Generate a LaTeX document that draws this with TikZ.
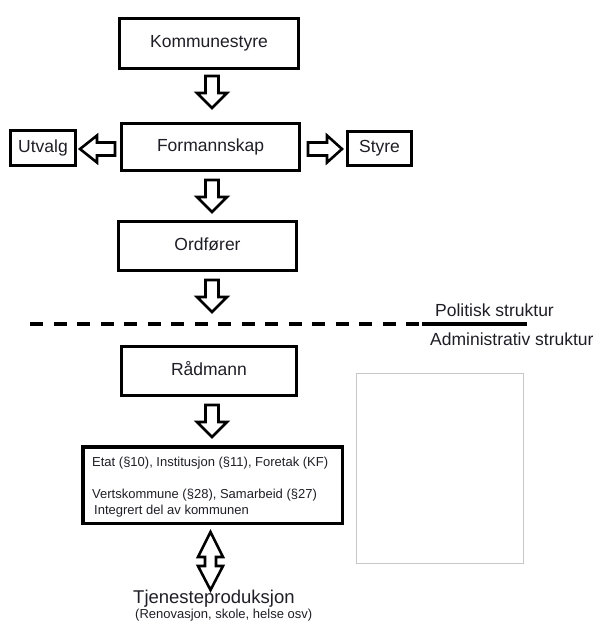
\documentclass[tikz,border=0pt]{standalone}
\usepackage{fontspec}
\setmainfont{Liberation Sans}
\definecolor{txt}{RGB}{30,30,38}
\definecolor{frame}{RGB}{200,200,200}
\begin{document}
\begin{tikzpicture}[x=1pt,y=-1pt,
  box/.style={draw=black, line width=3pt, inner sep=0pt, text=txt,
    font=\fontsize{17.5}{20}\selectfont, text height=13pt, text depth=5pt},
  small/.style={inner sep=0pt, text=txt, font=\fontsize{13}{14}\selectfont, anchor=base west},
  big/.style={inner sep=0pt, text=txt, font=\fontsize{17.5}{20}\selectfont, anchor=base west},
  blockarrow/.style={draw=black, fill=white, line width=2.6pt, line join=miter},
  pics/downarr/.style={code={
    \draw[blockarrow] (-6.5,0) -- (6.5,0) -- (6.5,17) -- (15,17) -- (0,32)
      -- (-15,17) -- (-6.5,17) -- cycle;}},
  pics/leftarr/.style={code={
    \draw[blockarrow] (0,-6.5) -- (0,6.5) -- (-18,6.5) -- (-18,13.5) -- (-35,0)
      -- (-18,-13.5) -- (-18,-6.5) -- cycle;}},
  pics/rightarr/.style={code={
    \draw[blockarrow] (0,-6.5) -- (0,6.5) -- (19,6.5) -- (19,13.5) -- (34,0)
      -- (19,-13.5) -- (19,-6.5) -- cycle;}}
]
\useasboundingbox (0,0) rectangle (597,621);

% boxes
\node[box, minimum width=179pt, minimum height=50pt] (K) at (209,43.5) {Kommunestyre};
\node[box, minimum width=178pt, minimum height=47pt] (F) at (210.5,147) {Formannskap};
\node[box, minimum width=65pt, minimum height=35pt] (U) at (43,148) {Utvalg};
\node[box, minimum width=64pt, minimum height=34pt] (S) at (379.5,148.5) {Styre};
\node[box, minimum width=178pt, minimum height=49pt] (O) at (207.5,246) {Ordfører};
\node[box, minimum width=175pt, minimum height=49pt] (R) at (209,371) {Rådmann};
\node[draw=black, line width=3.5pt, inner sep=0pt, minimum width=259.5pt, minimum height=76.5pt] (E) at (212.5,485) {};
\node[small] (e1) at (92,466) {Etat (§10), Institusjon (§11), Foretak (KF)};
\node[small] (e2) at (92,498) {Vertskommune (§28), Samarbeid (§27)};
\node[small] (e3) at (94,514) {Integrert del av kommunen};

% empty frame
\node[draw=frame, line width=1pt, inner sep=0pt, minimum width=167pt, minimum height=190pt] (blank) at (440,468.5) {};

% divider
\coordinate (dl) at (30,324);
\coordinate (dm) at (419,324);
\coordinate (sl) at (422,324);
\coordinate (sr) at (527,324);
\draw[line width=3.5pt, dash pattern=on 13pt off 10.5pt] (dl) -- (dm);
\draw[line width=3.5pt] (sl) -- (sr);
\node[big] (pol) at (435,316.7) {Politisk struktur};
\node[big] (adm) at (430,345) {Administrativ struktur};

% service production
\node[big, font=\fontsize{18.5}{20}\selectfont] (tj) at (133,603) {Tjenesteproduksjon};
\node[small] (ren) at (135,618) {(Renovasjon, skole, helse osv)};

% block arrows
\pic at (212,76) {downarr};
\pic at (212,180) {downarr};
\pic at (212,280) {downarr};
\pic at (212,405) {downarr};
\pic at (115,149) {leftarr};
\pic at (308,149) {rightarr};
\draw[blockarrow] (210.5,532) -- (223,557) -- (216,557) -- (216,566) -- (223,566)
  -- (210.5,590) -- (198,566) -- (205,566) -- (205,557) -- (198,557) -- cycle;
\end{tikzpicture}
\end{document}
